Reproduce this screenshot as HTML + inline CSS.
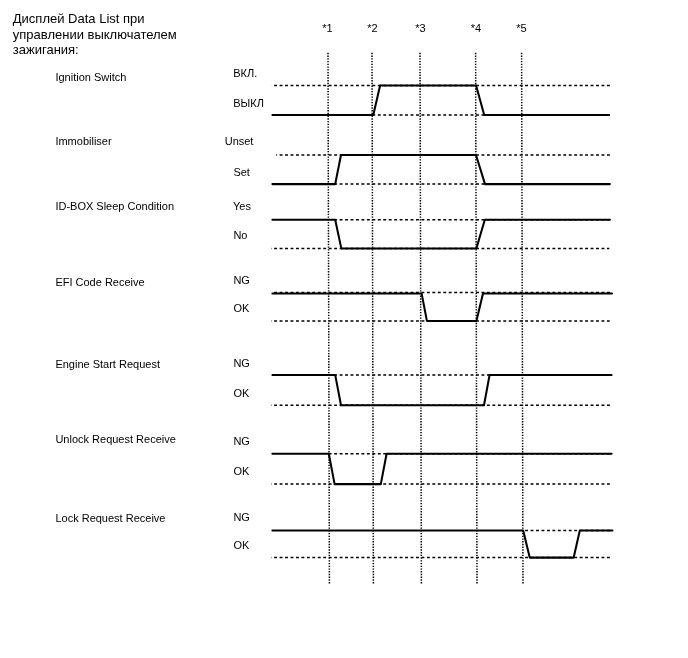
<!DOCTYPE html>
<html lang="ru"><head><meta charset="utf-8"><title>Data List</title>
<style>html,body{margin:0;padding:0;background:#fff}svg{display:block}text{font-family:"Liberation Sans",Arial,sans-serif;fill:#000}.t{font-size:13px}.l{font-size:11px}.v{stroke:#000;stroke-width:1.5;stroke-dasharray:1.364 1.364;fill:none}.d{stroke:#000;stroke-width:1.5;stroke-dasharray:2.9 2.556;fill:none}.s{stroke:#000;stroke-width:2.05;fill:none;stroke-linejoin:round;stroke-linecap:round}</style></head><body>
<svg width="688" height="658" viewBox="0 0 688 658">
<rect width="688" height="658" fill="#fff"/>
<text class="t" x="12.8" y="23.3">Дисплей Data List при</text>
<text class="t" x="12.8" y="39.0">управлении выключателем</text>
<text class="t" x="12.8" y="54.0">зажигания:</text>
<text class="l" x="55.4" y="80.8">Ignition Switch</text>
<text class="l" x="55.4" y="144.9">Immobiliser</text>
<text class="l" x="55.4" y="209.7">ID-BOX Sleep Condition</text>
<text class="l" x="55.4" y="285.8">EFI Code Receive</text>
<text class="l" x="55.4" y="367.7">Engine Start Request</text>
<text class="l" x="55.4" y="443.3">Unlock Request Receive</text>
<text class="l" x="55.4" y="521.8">Lock Request Receive</text>
<text class="l" x="233.2" y="76.9">ВКЛ.</text>
<text class="l" x="233.2" y="107.0">ВЫКЛ</text>
<text class="l" x="224.7" y="144.9">Unset</text>
<text class="l" x="233.4" y="175.7">Set</text>
<text class="l" x="233.0" y="209.8">Yes</text>
<text class="l" x="233.4" y="238.8">No</text>
<text class="l" x="233.4" y="283.6">NG</text>
<text class="l" x="233.4" y="311.5">OK</text>
<text class="l" x="233.4" y="366.7">NG</text>
<text class="l" x="233.4" y="397.0">OK</text>
<text class="l" x="233.4" y="444.7">NG</text>
<text class="l" x="233.4" y="475.2">OK</text>
<text class="l" x="233.4" y="521.3">NG</text>
<text class="l" x="233.4" y="548.8">OK</text>
<text class="l" x="322.2" y="32.0">*1</text>
<text class="l" x="367.2" y="32.0">*2</text>
<text class="l" x="415.2" y="32.0">*3</text>
<text class="l" x="470.8" y="32.0">*4</text>
<text class="l" x="516.3" y="32.0">*5</text>
<line class="v" x1="328.0" y1="52.8" x2="329.4" y2="583.4"/>
<line class="v" x1="372.0" y1="52.8" x2="373.4" y2="583.4"/>
<line class="v" x1="420.0" y1="52.8" x2="421.4" y2="583.4"/>
<line class="v" x1="475.6" y1="52.8" x2="477.0" y2="583.4"/>
<line class="v" x1="521.6" y1="52.8" x2="523.0" y2="583.4"/>
<line class="d" x1="271.5" y1="85.4" x2="610.0" y2="85.4" stroke-dashoffset="2.806"/>
<line class="d" x1="373" y1="115.0" x2="609.8" y2="115.0" stroke-dashoffset="0.642"/>
<line class="d" x1="276.2" y1="155.0" x2="610.0" y2="155.0" stroke-dashoffset="2.05"/>
<line class="d" x1="335" y1="184.1" x2="610.0" y2="184.1" stroke-dashoffset="0.834"/>
<line class="d" x1="335" y1="219.7" x2="610.0" y2="219.7" stroke-dashoffset="0.834"/>
<line class="d" x1="271.2" y1="248.4" x2="609.3" y2="248.4" stroke-dashoffset="2.506"/>
<line class="d" x1="272" y1="292.6" x2="610.0" y2="292.6" stroke-dashoffset="3.306"/>
<line class="d" x1="271.2" y1="320.9" x2="609.7" y2="320.9" stroke-dashoffset="2.506"/>
<line class="d" x1="335" y1="374.9" x2="610.0" y2="374.9" stroke-dashoffset="0.834"/>
<line class="d" x1="271.2" y1="405.3" x2="610.7" y2="405.3" stroke-dashoffset="2.506"/>
<line class="d" x1="328" y1="453.7" x2="610.0" y2="453.7" stroke-dashoffset="4.746"/>
<line class="d" x1="271.2" y1="484.1" x2="610.0" y2="484.1" stroke-dashoffset="2.506"/>
<line class="d" x1="522" y1="530.5" x2="610.0" y2="530.5" stroke-dashoffset="2.33"/>
<line class="d" x1="271.2" y1="557.6" x2="610.0" y2="557.6" stroke-dashoffset="2.506"/>
<polyline class="s" points="272.4,115.0 373.3,115.0 380.1,85.4 476.1,85.4 484.2,115.0 609.0,115.0"/>
<polyline class="s" points="272.4,184.1 335.2,184.1 341.0,155.0 476.0,155.0 485.0,184.1 609.9,184.1"/>
<polyline class="s" points="272.4,219.7 335.2,219.7 341.3,248.4 476.4,248.4 484.8,219.7 609.9,219.7"/>
<polyline class="s" points="272.4,293.4 421.6,293.4 426.9,320.9 476.4,320.9 483.0,293.4 612.0,293.4"/>
<polyline class="s" points="272.4,374.9 335.2,374.9 341.0,405.3 484.0,405.3 489.6,374.9 611.6,374.9"/>
<polyline class="s" points="272.4,453.7 328.8,453.7 334.6,484.1 380.8,484.1 386.6,453.7 611.6,453.7"/>
<polyline class="s" points="272.4,530.5 523.2,530.5 529.7,557.6 573.7,557.6 579.8,530.5 612.5,530.5"/>
</svg></body></html>
